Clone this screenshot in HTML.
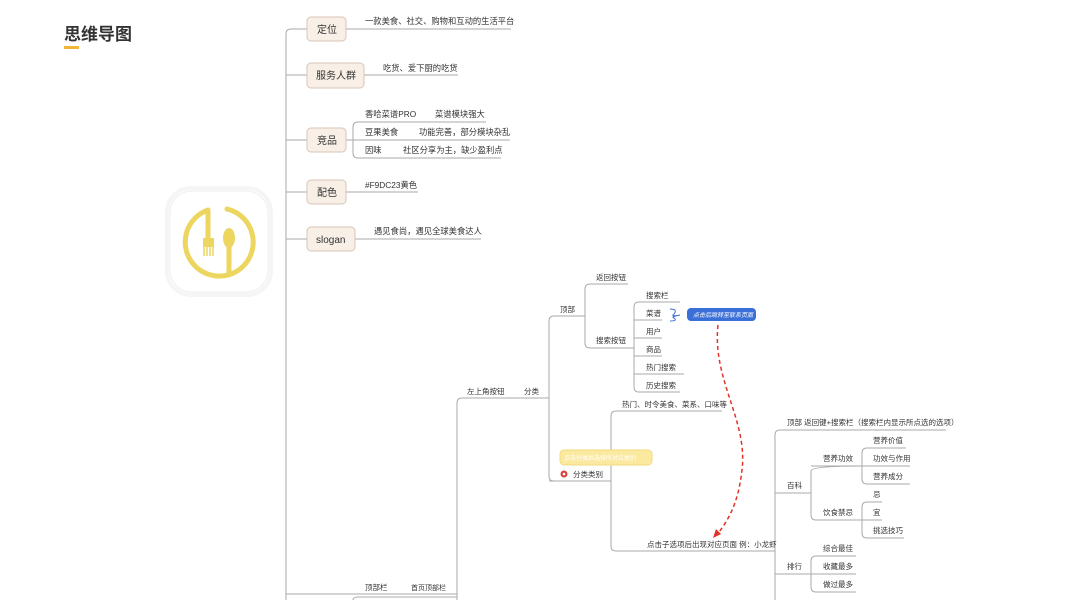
<!DOCTYPE html>
<html><head><meta charset="utf-8"><style>
html,body{margin:0;padding:0;background:#fff;}
svg{display:block}
text{font-family:"Liberation Sans","Noto Sans CJK SC",sans-serif;fill:#333;}
</style></head><body>
<svg width="1068" height="600" viewBox="0 0 1068 600" xmlns="http://www.w3.org/2000/svg">
<text x="64" y="40" font-size="17" font-weight="bold" fill="#222">思维导图</text>
<rect x="64" y="46" width="15" height="3" fill="#f0b73a"/>
<!-- logo -->
<rect x="167" y="188" width="104" height="107" rx="24" fill="none" stroke="#f5f5f5" stroke-width="4"/>
<rect x="170" y="191" width="98" height="101" rx="22" fill="#fff" stroke="#eee"/>
<path d="M208 210 A34 34 0 1 0 227 209" fill="none" stroke="#ecd65f" stroke-width="5" stroke-linecap="round"/>
<path d="M208 210 L208 240" stroke="#ecd65f" stroke-width="5" stroke-linecap="round"/>
<rect x="203" y="238" width="11" height="9" fill="#ecd65f"/>
<path d="M204 247 v9 M207 247 v9 M210 247 v9 M213 247 v9" stroke="#ecd65f" stroke-width="1.5"/>
<ellipse cx="229" cy="238" rx="6" ry="10" fill="#ecd65f"/>
<path d="M229 245 L229 272" stroke="#ecd65f" stroke-width="5" stroke-linecap="round"/>
<g stroke="#aaa" stroke-width="1" fill="none">
<path d="M286 600 V34 Q286 29 291 29 H307"/>
<path d="M286 75 H307 M286 140 H307 M286 192 H307 M286 239 H307"/>
<path d="M346 29 H511 M364 75 H458 M346 140 H353 M346 192 H418 M355 239 H481"/>
<path d="M486 122 H358 Q353 122 353 127 V153 Q353 158 358 158 H501 M353 140 H510"/>
<path d="M457 600 V403 Q457 398 462 398 H549"/>
<path d="M286 594 H457"/>
<path d="M457 597 H358 Q353 597 353 600"/>
<path d="M556 481 H554 Q549 481 549 476 V321 Q549 316 554 316 H585"/>
<path d="M549 481 H611"/>
<path d="M628 284 H590 Q585 284 585 289 V343 Q585 348 590 348 H634"/>
<path d="M680 302 H639 Q634 302 634 307 V387 Q634 392 639 392 H680 M634 320 H662 M634 338 H662 M634 356 H662 M634 374 H684"/>
<path d="M722 411 H616 Q611 411 611 416 V546 Q611 551 616 551 H775"/>
<path d="M946 430 H780 Q775 430 775 435 V600"/>
<path d="M775 493 H811 M811 466 H862"/>
<path d="M862 466 Q811 466 811 471 V515 Q811 520 816 520 H862"/>
<path d="M906 448 H867 Q862 448 862 453 V479 Q862 484 867 484 H910 M862 466 H910"/>
<path d="M882 502 H867 Q862 502 862 507 V533 Q862 538 867 538 H904 M862 520 H882"/>
<path d="M775 574 H811"/>
<path d="M856 556 H816 Q811 556 811 561 V587 Q811 592 816 592 H856 M811 574 H856"/>
</g>
<g fill="#f8efe6" stroke="#d8c6b5">
<rect x="307" y="17" width="39" height="24" rx="4"/>
<rect x="307" y="63" width="57" height="25" rx="4"/>
<rect x="307" y="128" width="39" height="24" rx="4"/>
<rect x="307" y="180" width="39" height="24" rx="4"/>
<rect x="307" y="227" width="48" height="24" rx="4"/>
</g>
<g font-size="10" fill="#444">
<text x="317" y="33">定位</text><text x="316" y="79">服务人群</text><text x="317" y="144">竞品</text><text x="317" y="196">配色</text><text x="316" y="243">slogan</text>
</g>
<g font-size="8.3">
<text x="365" y="24">一款美食、社交、购物和互动的生活平台</text>
<text x="383" y="71">吃货、爱下厨的吃货</text>
<text x="365" y="117">香哈菜谱PRO</text><text x="435" y="117">菜谱模块强大</text>
<text x="365" y="135">豆果美食</text><text x="419" y="135">功能完善，部分模块杂乱</text>
<text x="365" y="153">因味</text><text x="403" y="153">社区分享为主，缺少盈利点</text>
<text x="365" y="188">#F9DC23黄色</text>
<text x="374" y="234">遇见食尚，遇见全球美食达人</text>
</g>
<g font-size="7.5">
<text x="467" y="394">左上角按钮</text><text x="524" y="394">分类</text>
<text x="560" y="312">顶部</text><text x="596" y="280">返回按钮</text><text x="596" y="343">搜索按钮</text>
<text x="646" y="298">搜索栏</text><text x="646" y="316">菜谱</text><text x="646" y="334">用户</text><text x="646" y="352">商品</text><text x="646" y="370">热门搜索</text><text x="646" y="388">历史搜索</text>
<text x="573" y="477">分类类别</text>
<text x="622" y="407">热门、时令美食、菜系、口味等</text>
<text x="647" y="547">点击子选项后出现对应页面 例：小龙虾</text>
<text x="787" y="425">顶部 返回键+搜索栏（搜索栏内显示所点选的选项）</text>
<text x="787" y="488">百科</text><text x="823" y="461">营养功效</text><text x="823" y="515">饮食禁忌</text>
<text x="873" y="443">营养价值</text><text x="873" y="461">功效与作用</text><text x="873" y="479">营养成分</text>
<text x="873" y="497">忌</text><text x="873" y="515">宜</text><text x="873" y="533">挑选技巧</text>
<text x="787" y="569">排行</text><text x="823" y="551">综合最佳</text><text x="823" y="569">收藏最多</text><text x="823" y="587">做过最多</text>
<text x="365" y="590">顶部栏</text><text x="411" y="590" font-size="7">首页顶部栏</text>
</g>
<path d="M670 309 Q678 309 674 314 Q670 317 680 315 M680 315 Q670 317 674 318 Q678 321 670 321" stroke="#3a6fd8" fill="none" stroke-width="1"/>
<rect x="687" y="308" width="69" height="13" rx="4" fill="#3a6fd8"/>
<text x="693" y="317" font-size="6" font-style="italic" style="fill:#fff">点击后跳转至联系页面</text>
<rect x="560" y="450" width="92" height="15" rx="4" fill="#fbe9a0" stroke="#f3da7a"/>
<text x="564" y="460" font-size="6" style="fill:#fff">点击分类后选择所对应类别</text>
<circle cx="564" cy="474" r="3.5" fill="#d9443a"/>
<circle cx="564" cy="474" r="1.3" fill="#fff"/>
<path d="M718 325 C712 380 748 420 742 470 C738 505 728 520 717 535" fill="none" stroke="#e0332a" stroke-width="1.5" stroke-dasharray="4 3"/>
<path d="M713 538 L716 529 L721 534 Z" fill="#e0332a"/>
</svg>
</body></html>
